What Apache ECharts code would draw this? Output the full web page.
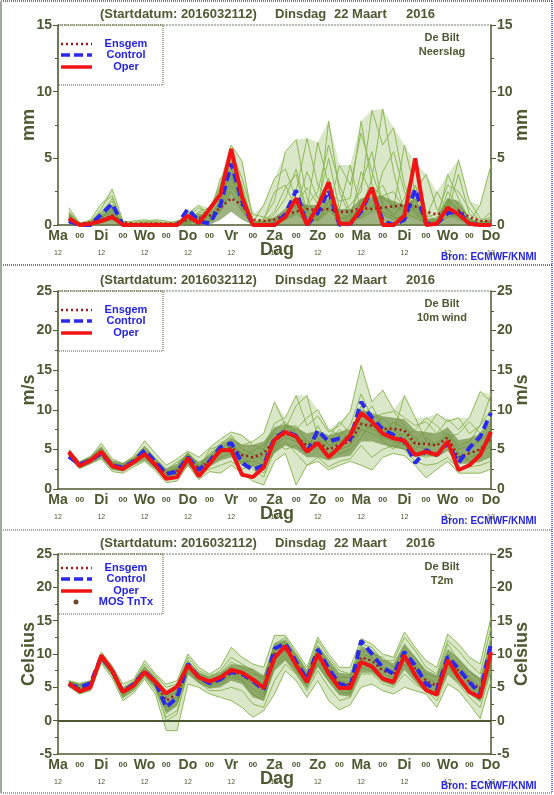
<!DOCTYPE html>
<html>
<head>
<meta charset="utf-8">
<title>EPS pluim De Bilt</title>
<script src="https://cdn.jsdelivr.net/npm/echarts@6/dist/echarts.min.js"></script>
<style>
  html, body { margin: 0; padding: 0; background: #fff; }
  #chart { width: 554px; height: 795px; }
</style>
</head>
<body>
<div id="chart"></div>
<script>
// forecast hours after 2016032112 (6-hourly)
const hours = [6,12,18,24,30,36,42,48,54,60,66,72,78,84,90,96,102,108,114,120,
  126,132,138,144,150,156,162,168,174,180,186,192,198,204,210,216,222,228,234,240];
// day labels at 12 UTC, "00" in between
const dayNames = ['Ma','Di','Wo','Do','Vr','Za','Zo','Ma','Di','Wo','Do'];
const midnightLabel = '00';
const noonLabel = '12';

// ---- Neerslag (mm) ----
const precipOper = [0.5,0.0,0.1,0.3,0.6,0.0,0.0,0.0, 0.0,0.0,0.0,0.7,0.15,1.2,2.3,5.7,
  2.1,0.0,0.0,0.0,0.6,2.0,0.0,1.4, 3.2,0.1,0.1,1.2,2.8,0.0,0.0,0.7, 5.0,0.0,0.1,1.3,0.8,0.1,0.0,0.0];
const precipControl = [0.3,0.0,0.0,0.8,1.6,0.0,0.0,0.0, 0.0,0.0,0.0,1.2,0.3,0.1,1.5,4.6,
  1.8,0.0,0.0,0.0,0.8,2.6,0.0,0.9, 2.6,0.0,0.1,1.0,2.7,0.3,0.0,0.4, 2.7,0.1,0.1,0.9,1.0,0.1,0.0,0.0];
const precipEnsgem = [0.4,0.1,0.2,0.4,0.7,0.2,0.1,0.1, 0.1,0.1,0.1,0.4,0.5,0.7,1.3,2.0,
  1.5,0.4,0.3,0.4,0.8,1.0,1.2,1.1, 1.2,1.0,1.0,1.3,1.2,1.3,1.4,1.5, 1.4,1.0,0.8,1.0,1.1,0.6,0.3,0.3];
const precipCoreLo = [0,0,0,0,0,0,0,0, 0,0,0,0,0,0,0.4,1.0,
  0.4,0,0,0,0,0,0,0, 0,0,0,0,0,0,0,0, 0,0,0,0,0,0,0,0];
const precipCoreHi = [0.9,0.1,0.2,0.8,1.5,0.1,0.1,0.2, 0.2,0.1,0.1,0.5,0.8,0.8,2.0,4.5,
  2.5,0.2,0.3,0.6,1.2,1.8,1.5,1.5, 2.0,1.2,1.2,2.0,2.2,2.2,1.8,1.5, 2.0,0.5,0.5,2.0,1.8,0.5,0.2,0.4];
const precipMembers = [
  [1.3,0.1,0.2,1.2,2.7,0.3,0.1,0.2, 0.3,0.1,0.0,0.6,1.3,0.8,3.0,6.0, 4.8,0.3,0.2,0.8,2.0,4.2,1.0,0.5, 7.8,2.5,0.6,1.2,3.5,8.7,4.0,1.0, 0.5,0.2,0.4,2.0,1.0,0.3,0.1,0.5],
  [0.8,0.0,0.4,1.6,2.2,0.1,0.2,0.3, 0.2,0.2,0.1,1.0,0.6,1.2,2.5,4.8, 3.0,0.1,0.5,1.8,5.5,6.4,2.0,0.3, 1.0,4.5,3.0,6.9,4.0,1.5,0.6,2.0, 4.7,1.0,0.2,1.5,4.9,1.8,0.5,0.2],
  [0.6,0.1,0.1,0.8,1.8,0.0,0.0,0.1, 0.1,0.0,0.0,0.4,0.9,1.0,2.0,5.0, 2.2,0.0,0.0,0.3,1.2,2.5,6.5,3.0, 2.0,0.8,1.5,2.5,8.6,6.0,7.3,3.0, 1.0,0.3,0.1,3.8,2.0,0.4,0.2,1.0],
  [0.4,0.0,0.0,0.5,1.2,0.2,0.3,0.4, 0.2,0.1,0.2,0.8,1.5,0.6,3.5,4.2, 2.5,0.2,1.5,3.5,4.2,2.0,1.2,6.2, 3.0,1.0,0.4,4.0,2.2,3.0,1.2,6.0, 2.5,3.8,1.2,0.8,0.6,0.2,1.5,4.5],
  [0.9,0.1,0.3,1.0,1.5,0.1,0.1,0.2, 0.4,0.3,0.1,0.2,0.4,0.3,1.5,3.5, 1.8,0.4,0.1,0.5,0.8,1.5,2.8,1.6, 5.0,1.2,4.5,1.0,1.8,2.2,2.5,1.2, 3.0,0.5,2.5,1.0,3.8,0.8,0.3,0.2],
  [0.5,0.0,0.2,0.6,1.0,0.0,0.1,0.0, 0.0,0.1,0.3,0.5,0.2,0.8,2.2,3.8, 1.2,0.1,0.3,1.0,2.8,3.8,0.6,1.0, 3.5,0.4,0.8,3.0,5.5,1.5,0.8,1.5, 1.2,0.3,0.2,2.5,1.5,0.5,0.1,0.3],
  [1.0,0.2,0.1,0.3,0.8,0.1,0.0,0.1, 0.1,0.0,0.1,0.3,1.0,1.3,2.8,5.5, 3.5,0.8,0.6,0.4,0.5,1.0,1.5,2.5, 6.0,3.0,1.0,0.5,1.0,4.0,5.5,2.5, 0.8,0.2,0.6,1.2,0.4,0.2,0.0,0.1],
  [0.3,0.0,0.0,0.2,0.4,0.0,0.0,0.0, 0.0,0.0,0.0,0.1,0.3,0.4,1.0,2.5, 1.0,0.0,0.1,0.2,0.4,0.8,0.3,0.4, 1.2,0.3,0.2,0.6,1.5,0.8,0.4,0.8, 2.0,0.1,0.1,0.6,0.8,0.1,0.0,0.0],
  [0.7,0.1,0.3,0.9,2.0,0.2,0.0,0.1, 0.1,0.0,0.0,0.7,0.8,0.5,1.8,4.5, 2.8,0.2,0.4,2.5,3.0,1.2,4.0,2.0, 2.5,1.8,2.0,7.8,3.0,2.0,1.5,1.0, 2.2,0.6,0.8,3.0,2.5,1.2,0.3,0.6],
  [0.2,0.0,0.1,0.4,0.6,0.0,0.0,0.0, 0.1,0.0,0.0,0.2,0.5,0.2,1.2,3.0, 1.5,0.1,0.0,0.1,0.6,2.0,1.0,0.3, 1.8,0.6,0.3,1.8,2.5,1.0,0.6,0.5, 1.5,0.2,0.1,1.8,1.2,0.3,0.1,0.2]
];

// ---- 10m wind (m/s) ----
const windOper = [4.7,2.9,3.6,4.7,2.9,2.5,3.4,4.4, 3.0,1.3,1.5,3.9,1.6,3.2,4.9,4.9,
  1.8,1.5,2.7,6.2,7.2,6.6,4.7,5.8, 4.0,5.3,6.8,9.6,8.5,7.0,6.4,6.1, 4.3,4.7,4.3,6.0,2.4,3.0,4.3,7.2];
const windControl = [4.1,3.1,3.6,4.5,3.0,2.7,3.5,4.9, 3.4,1.9,2.2,4.0,2.4,3.5,5.3,5.8,
  3.3,2.4,3.0,6.4,7.3,6.7,4.6,7.4, 6.0,6.4,6.3,11.0,9.0,7.5,6.8,6.0, 3.3,4.9,4.3,5.8,3.3,5.2,6.6,9.6];
const windEnsgem = [4.5,3.0,3.7,4.6,3.0,2.8,3.5,4.6, 3.3,2.0,2.3,4.0,2.6,3.5,4.8,5.2,
  4.3,4.0,4.5,6.2,7.0,6.5,5.5,5.9, 5.0,5.6,6.0,8.2,8.0,7.6,7.6,7.4, 5.7,5.7,5.5,6.5,4.0,4.5,5.0,6.5];
const windCoreLo = [3.9,2.6,3.2,3.9,2.4,2.2,3.0,3.6, 2.5,1.2,1.4,3.0,1.8,2.8,3.6,4.0,
  3.0,2.8,2.6,4.5,5.5,5.0,4.0,4.0, 3.6,4.0,4.2,6.0,6.0,5.6,5.2,5.0, 4.0,4.2,4.0,4.8,3.2,3.2,3.4,4.0];
const windCoreHi = [5.0,3.5,4.2,5.4,3.6,3.3,4.0,5.4, 3.9,2.6,3.2,4.6,3.3,4.4,5.6,6.4,
  5.6,5.6,6.0,7.8,8.2,7.8,7.0,7.4, 6.8,7.2,7.6,10.0,9.6,9.2,9.0,8.8, 7.4,7.2,7.0,7.8,6.2,6.4,7.0,8.6];
const windMembers = [
  [5.0,3.4,4.0,5.8,3.8,3.2,4.2,6.1, 4.5,3.0,3.8,4.8,4.0,5.2,6.3,7.2, 6.8,5.5,5.0,8.3,9.0,11.8,8.0,9.2, 7.2,8.0,9.8,15.6,11.0,12.5,10.0,9.0, 8.0,8.5,7.0,8.8,7.5,9.0,12.3,11.0],
  [4.0,2.6,3.2,3.8,2.2,2.0,2.8,3.5, 2.3,0.8,1.0,3.0,1.2,2.2,2.0,3.0, 2.0,1.0,0.5,3.5,4.5,0.5,3.0,3.5, 2.4,3.0,3.5,3.0,2.4,4.0,4.5,4.2, 3.0,1.4,2.5,3.5,2.0,2.0,2.0,2.5],
  [4.6,3.0,3.8,5.0,3.2,2.6,3.6,4.8, 3.2,2.2,2.8,4.4,2.8,4.5,5.8,6.5, 5.5,6.0,7.0,11.0,8.0,6.5,6.0,5.5, 6.5,8.5,7.0,9.0,10.5,8.0,7.0,11.8, 9.0,6.0,5.5,7.0,5.0,5.5,6.0,7.5],
  [4.3,3.2,3.5,4.3,2.8,2.4,3.2,4.2, 3.0,1.6,2.0,3.6,2.2,3.2,4.4,5.5, 4.6,3.8,4.2,6.5,7.6,10.5,11.8,6.5, 5.0,6.0,6.5,8.5,7.5,7.0,8.5,7.5, 6.5,5.0,4.5,5.5,4.0,4.5,5.0,6.0],
  [4.5,2.8,3.4,4.6,3.1,2.8,3.8,4.6, 3.5,2.0,1.8,3.3,2.0,2.5,3.0,3.5, 2.5,3.0,2.0,4.8,6.0,4.5,3.0,4.0, 2.8,3.5,3.8,5.5,4.0,5.0,5.5,5.0, 3.5,3.0,3.2,4.0,2.6,2.8,3.0,3.5],
  [4.8,3.3,3.9,5.2,3.4,3.0,3.9,5.4, 3.8,2.4,3.4,4.2,3.4,4.0,5.0,6.0, 4.0,4.8,5.5,7.0,7.0,7.5,9.0,10.0, 7.5,6.8,8.0,12.0,9.0,9.5,9.8,8.0, 6.0,7.5,9.5,8.5,9.0,7.0,8.0,12.0],
  [4.2,2.9,3.6,4.4,2.6,2.3,3.3,4.0, 2.8,1.4,1.6,3.8,1.6,3.0,4.0,4.5, 3.5,3.5,3.0,5.5,6.5,6.0,5.0,6.0, 4.5,5.0,5.5,7.5,7.0,6.5,6.0,5.5, 4.5,4.0,4.5,5.5,3.5,4.0,4.5,5.5],
  [4.4,3.1,3.7,4.8,3.3,2.9,3.4,4.5, 3.3,2.0,2.6,4.6,3.0,3.6,5.2,5.0, 4.4,2.5,1.5,5.0,7.8,8.0,6.0,5.0, 6.0,7.5,6.0,8.0,7.8,9.0,7.5,6.5, 7.5,9.0,8.0,6.5,7.0,8.5,7.0,9.0],
  [4.6,3.0,3.5,4.5,2.8,2.6,3.5,4.3, 3.1,1.8,2.4,4.4,2.5,5.0,5.5,6.8, 5.0,4.5,3.5,6.0,5.0,5.5,4.5,8.0, 5.5,4.5,5.0,6.5,8.5,6.0,5.0,6.5, 5.0,6.5,5.5,7.0,5.5,6.0,8.0,10.0],
  [4.5,3.0,3.8,4.9,3.0,2.5,3.6,4.6, 3.2,1.5,2.2,4.0,2.6,3.4,4.6,5.2, 3.0,4.0,5.0,7.5,8.5,7.0,5.5,7.0, 5.5,6.0,7.0,10.5,8.5,7.5,6.5,7.0, 5.5,5.0,6.0,6.5,4.5,3.5,4.0,6.5]
];

// ---- T2m (Celsius) ----
const t2mOper = [5.6,4.4,5.0,9.8,7.5,4.3,5.3,7.3, 5.8,4.1,5.1,8.3,6.5,5.9,6.5,7.6,
  7.2,6.2,4.9,9.4,11.2,8.3,5.8,10.0, 7.1,4.9,4.9,8.8,8.1,6.3,5.8,9.8, 6.8,4.6,3.9,9.1,6.5,4.3,3.5,10.3];
const t2mControl = [5.4,5.0,5.6,9.6,7.5,4.3,5.5,7.4, 5.8,2.0,3.5,8.5,6.5,5.6,6.2,7.3,
  7.0,6.0,4.6,10.8,11.6,8.8,6.2,10.7, 7.8,5.5,5.0,12.0,10.0,8.0,7.0,10.3, 8.3,5.5,4.6,9.6,7.8,5.8,4.0,11.6];
const t2mEnsgem = [5.5,4.8,5.4,9.5,7.5,4.4,5.4,7.3, 5.8,3.0,4.0,8.3,6.6,5.8,6.2,7.3,
  7.0,6.0,5.0,10.0,10.8,8.5,6.2,9.8, 7.5,5.6,5.4,9.5,9.0,7.5,7.0,9.6, 7.8,6.0,5.2,9.0,7.5,5.8,4.8,9.5];
const t2mCoreLo = [5.0,4.0,4.6,8.8,6.8,3.4,4.6,6.6, 4.8,1.0,2.2,7.0,5.6,4.8,5.0,6.0,
  5.5,3.5,3.0,7.5,9.0,7.0,4.8,8.0, 5.8,3.8,3.6,7.2,7.2,5.8,5.2,7.6, 5.8,4.2,3.6,7.0,5.6,4.0,2.8,7.5];
const t2mCoreHi = [6.0,5.5,6.0,10.0,8.2,5.0,6.0,8.2, 6.6,4.5,5.4,9.0,7.3,6.6,7.2,8.5,
  8.3,7.8,6.8,11.6,12.2,10.0,7.4,11.4, 9.2,7.2,7.0,11.2,10.6,9.2,8.6,11.6, 9.6,7.6,6.8,10.8,9.4,7.6,6.4,12.0];
const t2mMembers = [
  [6.0,5.6,6.0,10.3,8.2,5.5,6.2,9.0, 7.0,5.5,6.0,10.0,8.0,7.0,8.0,11.0, 9.5,8.5,8.0,12.8,12.8,10.5,8.0,12.5, 10.0,8.0,8.0,12.3,11.5,10.0,9.5,13.3, 11.0,9.0,8.0,13.0,11.5,9.5,8.5,15.5],
  [5.2,4.0,4.5,8.6,6.4,3.0,4.2,6.2, 4.0,-1.5,-1.5,5.5,5.0,4.0,3.5,3.0, 2.0,0.5,1.5,4.0,7.5,6.0,3.5,6.0, 3.0,1.6,2.4,5.0,5.5,4.5,4.0,5.0, 4.5,4.0,2.0,5.5,4.5,2.5,0.3,6.0],
  [5.5,4.6,5.2,9.4,7.2,4.0,5.0,7.0, 5.2,0.0,1.0,7.5,6.0,5.0,5.5,6.5, 6.0,4.0,3.0,8.5,10.0,8.0,5.0,9.0, 6.5,4.5,4.0,8.0,7.5,6.5,6.0,8.5, 6.5,5.0,4.0,8.0,6.5,4.5,3.0,9.0],
  [5.8,5.2,5.8,10.0,8.0,4.8,5.8,8.0, 6.4,4.0,5.0,9.0,7.0,6.5,7.5,9.5, 8.5,7.5,6.0,11.0,11.8,9.5,7.0,11.0, 8.5,6.5,6.5,10.5,10.0,9.5,8.0,11.0, 9.5,7.0,6.5,11.5,9.0,7.5,6.0,12.5],
  [5.3,4.4,5.0,9.2,7.0,3.8,4.8,6.8, 5.0,1.5,2.5,7.8,6.2,5.5,6.0,7.0, 6.5,5.5,4.0,9.0,10.5,8.5,6.0,9.5, 7.0,5.0,4.5,9.0,8.5,7.0,6.5,9.5, 7.5,5.5,4.5,9.0,7.5,5.5,4.0,10.0],
  [5.6,5.0,5.5,9.8,7.8,4.5,5.5,7.5, 6.0,3.5,4.5,8.5,6.8,6.0,6.8,8.0, 7.5,6.5,5.5,10.5,11.5,9.0,6.5,10.5, 8.0,6.0,5.5,10.0,9.5,8.0,7.5,10.5, 8.5,6.5,5.5,10.0,8.5,6.5,5.0,11.0],
  [5.4,4.2,4.8,9.0,6.8,3.5,4.5,6.5, 4.5,0.5,1.5,7.0,5.8,4.5,4.5,5.0, 4.5,2.5,2.0,6.0,8.5,7.0,4.5,7.5, 5.0,3.0,3.5,7.0,7.0,5.5,5.0,7.0, 5.5,4.5,3.0,7.0,5.5,3.5,2.0,7.5],
  [5.7,4.8,5.3,9.5,7.5,4.2,5.2,7.2, 5.6,2.5,3.5,8.2,6.5,5.8,6.5,7.5, 7.0,6.0,5.0,10.0,11.0,8.5,6.0,10.0, 7.5,5.5,5.0,9.5,9.0,7.5,7.0,10.0, 8.0,6.0,5.0,9.5,8.0,6.0,4.5,10.5],
  [5.9,5.4,5.7,9.9,7.9,4.6,5.9,8.5, 6.8,5.0,5.5,9.5,7.5,6.8,7.2,8.8, 8.0,7.0,6.5,11.5,12.5,10.0,7.5,12.0, 9.5,7.5,7.0,11.5,11.0,9.0,9.0,12.5, 10.5,8.0,7.0,12.0,10.5,8.5,7.0,14.0],
  [5.5,4.7,5.1,9.3,7.3,4.1,5.1,7.0, 5.4,2.0,3.0,8.0,6.3,5.3,5.8,6.8, 6.2,4.8,3.5,8.0,9.5,7.5,5.5,8.5, 6.0,4.0,4.2,8.5,8.0,6.0,5.5,9.0, 7.0,5.0,3.8,8.5,7.0,5.0,3.5,8.5]
];

const olive = '#4d5a31';
const blueText = '#2424e8';
const memberColor = '#8fb85a';
const spreadColor = '#9fc271';
const coreColor = '#6a8a3e';
const font = 'Liberation Sans';

const panels = [
  {top: 25, height: 200, min: 0, max: 15, unit: 'mm', place: 'Neerslag', mos: false,
    members: precipMembers, lo: precipCoreLo, hi: precipCoreHi,
    ensgem: precipEnsgem, control: precipControl, oper: precipOper},
  {top: 291, height: 198, min: 0, max: 25, unit: 'm/s', place: '10m wind', mos: false,
    members: windMembers, lo: windCoreLo, hi: windCoreHi,
    ensgem: windEnsgem, control: windControl, oper: windOper},
  {top: 554, height: 200, min: -5, max: 25, unit: 'Celsius', place: 'T2m', mos: true,
    members: t2mMembers, lo: t2mCoreLo, hi: t2mCoreHi,
    ensgem: t2mEnsgem, control: t2mControl, oper: t2mOper}
];

const pts = arr => hours.map((h, k) => [h, arr[k]]);

const grids = [], xAxes = [], yAxes = [], series = [], graphics = [];

function txt(x, y, text, size, color, align) {
  graphics.push({type: 'text', x: x, y: y, silent: true, style: {
    text: text, fill: color, font: 'bold ' + size + 'px "' + font + '"',
    textAlign: align || 'left', textVerticalAlign: 'middle'}});
}
function hline(x1, x2, y, color, dash, w) {
  graphics.push({type: 'line', silent: true, shape: {x1: x1, y1: y, x2: x2, y2: y},
    style: {stroke: color, lineWidth: w || 1, lineDash: dash || null}});
}
function vline(x, y1, y2, color, dash, w) {
  graphics.push({type: 'line', silent: true, shape: {x1: x, y1: y1, x2: x, y2: y2},
    style: {stroke: color, lineWidth: w || 1, lineDash: dash || null}});
}
// filled band between two value lists, placed through the axes
function bandSeries(xi, yi, lo, hi, color, opacity, z) {
  const band = hours.map((h, k) => [h, lo[k], hi[k]]);
  return {
    type: 'custom', xAxisIndex: xi, yAxisIndex: yi, silent: true, z: z,
    data: band, encode: {x: 0, y: [1, 2]},
    renderItem: (params, api) => {
      if (params.dataIndex !== 0) return null;
      const upper = band.map(d => api.coord([d[0], d[2]]));
      const lower = band.map(d => api.coord([d[0], d[1]])).reverse();
      return {type: 'polygon', shape: {points: upper.concat(lower)},
        style: {fill: color, opacity: opacity}};
    }
  };
}

panels.forEach((p, i) => {
  const bottom = p.top + p.height;
  grids.push({left: 58, top: p.top, width: 433, height: p.height});

  xAxes.push({
    gridIndex: i, type: 'value', min: 0, max: 240, interval: 12,
    axisLine: {onZero: false, lineStyle: {color: olive, width: 1.5}},
    axisTick: {show: false},
    splitLine: {show: false},
    axisLabel: {
      margin: 3, showMinLabel: true, showMaxLabel: true, hideOverlap: false,
      formatter: v => {
        const k = Math.round(v / 12);
        if (k % 2 === 0) return '{d|' + dayNames[k / 2] + '}\n{s|' + noonLabel + '}';
        return '{z|' + midnightLabel + '}';
      },
      rich: {
        d: {fontFamily: font, fontWeight: 'bold', fontSize: 14, color: olive, lineHeight: 16},
        z: {fontFamily: font, fontWeight: 'bold', fontSize: 8, color: olive, lineHeight: 16},
        s: {fontFamily: font, fontSize: 7, color: olive, lineHeight: 18}
      }
    }
  });

  ['left', 'right'].forEach(side => {
    yAxes.push({
      gridIndex: i, type: 'value', position: side, min: p.min, max: p.max, interval: 5,
      axisLine: {show: true, lineStyle: {color: olive, width: 1.5}},
      axisTick: {show: true, length: 5, lineStyle: {color: olive}},
      minorTick: {show: true, splitNumber: 2, length: 3, lineStyle: {color: olive}},
      splitLine: {show: false},
      axisLabel: {fontFamily: font, fontWeight: 'bold', fontSize: 14, color: olive, margin: 6},
      name: p.unit, nameLocation: 'middle', nameRotate: 90, nameMoveOverlap: false,
      nameGap: side === 'left' ? 20 : 22,
      nameTextStyle: {fontFamily: font, fontWeight: 'bold', fontSize: 18, color: olive}
    });
  });

  const xi = i, yi = 2 * i;
  // light spread of all members
  const mMin = hours.map((h, k) => Math.min(...p.members.map(m => m[k])));
  const mMax = hours.map((h, k) => Math.max(...p.members.map(m => m[k])));
  series.push(bandSeries(xi, yi, mMin, mMax, spreadColor, 0.38, 0));

  p.members.forEach(m => series.push({
    type: 'line', xAxisIndex: xi, yAxisIndex: yi, data: pts(m), symbol: 'none', silent: true,
    lineStyle: {color: memberColor, width: 1}, z: 1
  }));

  // dense core of the plume
  series.push(bandSeries(xi, yi, p.lo, p.hi, coreColor, 0.65, 2));

  series.push({name: 'Ensgem', type: 'line', xAxisIndex: xi, yAxisIndex: yi, data: pts(p.ensgem),
    symbol: 'none', lineStyle: {color: '#a3191b', width: 2.5, type: [2, 3]}, z: 3});
  series.push({name: 'Control', type: 'line', xAxisIndex: xi, yAxisIndex: yi, data: pts(p.control),
    symbol: 'none', lineStyle: {color: '#2a2aee', width: 4, type: [9, 5]}, z: 4,
    markLine: p.min < 0 ? {silent: true, symbol: 'none', label: {show: false},
      lineStyle: {color: olive, width: 2, type: 'solid'}, data: [{yAxis: 0}]} : undefined});
  series.push({name: 'Oper', type: 'line', xAxisIndex: xi, yAxisIndex: yi, data: pts(p.oper),
    symbol: 'none', lineStyle: {color: '#f01414', width: 4}, z: 5});

  // top border of plot
  hline(58, 491, p.top, '#a3aaa0', [2, 1], 1.5);

  // title
  const ty = p.top - 11;
  txt(100, ty, '(Startdatum: 2016032112)', 13, olive);
  txt(275, ty, 'Dinsdag', 13, olive);
  txt(334, ty, '22 Maart', 13, olive);
  txt(406, ty, '2016', 13, olive);

  // station + parameter
  txt(442, p.top + 13, 'De Bilt', 11, olive, 'center');
  txt(442, p.top + 27, p.place, 11, olive, 'center');

  // legend box
  graphics.push({type: 'rect', silent: true, shape: {x: 58, y: p.top, width: 105, height: 60},
    style: {fill: null, stroke: olive, lineWidth: 1, lineDash: [1, 1]}});
  const ly = p.mos ? [14, 25, 37, 48] : [19, 30, 42];
  hline(61, 92, p.top + ly[0], '#a3191b', [2, 3], 2.5);
  hline(61, 92, p.top + ly[1], '#2a2aee', [9, 4], 3.5);
  hline(61, 92, p.top + ly[2], '#f01414', null, 3.5);
  txt(126, p.top + ly[0], 'Ensgem', 11, blueText, 'center');
  txt(126, p.top + ly[1], 'Control', 11, blueText, 'center');
  txt(126, p.top + ly[2], 'Oper', 11, blueText, 'center');
  if (p.mos) {
    graphics.push({type: 'circle', silent: true, shape: {cx: 76, cy: p.top + ly[3], r: 2.5},
      style: {fill: '#6b4a30'}});
    txt(126, p.top + ly[3], 'MOS TnTx', 11, blueText, 'center');
  }

  // x-axis name and source
  txt(277, bottom + 25, 'Dag', 18, olive, 'center');
  txt(441, bottom + 32, 'Bron: ECMWF/KNMI', 10, blueText);
});

// panel frames
hline(1, 552, 1, '#3a3ae0', [1, 1], 1.5);
hline(1, 552, 265, '#3a3ae0', [1, 1], 1.5);
hline(1, 552, 530, '#a0a8a0', [1, 1], 2);
hline(1, 552, 793, '#a0a8a0', [1, 1], 2);
vline(1, 1, 793, '#a0a8a0', null, 2);
vline(552, 1, 793, '#3a3ae0', [1, 1], 1.5);

const chart = echarts.init(document.getElementById('chart'), null, {renderer: 'canvas'});
chart.setOption({
  backgroundColor: '#ffffff',
  animation: false,
  grid: grids,
  xAxis: xAxes,
  yAxis: yAxes,
  series: series,
  graphic: graphics
});
</script>
</body>
</html>
